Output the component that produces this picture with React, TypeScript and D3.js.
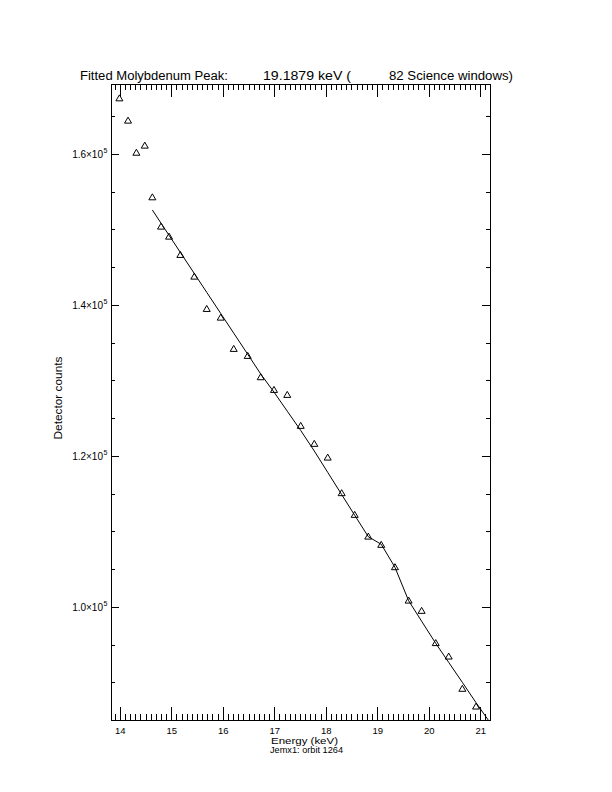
import React from "react";
import * as d3 from "d3";

const energy = [13.983, 14.151, 14.313, 14.476, 14.623, 14.792, 14.947, 15.167, 15.438, 15.679, 15.951, 16.203, 16.475, 16.727, 16.985, 17.243, 17.504, 17.768, 18.028, 18.299, 18.552, 18.816, 19.068, 19.334, 19.6, 19.852, 20.126, 20.378, 20.643, 20.909];
const counts = [167400, 164450, 160200, 161140, 154300, 150420, 149090, 146670, 143800, 139520, 138370, 134230, 133300, 130480, 128800, 128140, 124040, 121660, 119840, 115130, 112260, 109380, 108290, 105330, 100910, 99550, 95280, 93500, 89230, 86880];

const fitEnergy = [14.623, 14.792, 14.947, 15.167, 15.438, 15.679, 15.951, 16.203, 16.475, 16.727, 16.985, 17.243, 17.504, 17.768, 18.028, 18.299, 18.552, 18.816, 19.068, 19.334, 19.6, 19.852, 20.126, 20.378, 20.643, 20.909, 21.17];
const fitCounts = [152620, 150870, 149270, 147000, 144210, 141720, 138920, 136320, 133520, 130910, 128510, 125980, 123430, 120710, 117890, 114950, 112210, 109370, 108360, 105320, 100890, 98180, 95250, 92730, 90080, 87390, 84860];

const xMajorTicks = [14, 15, 16, 17, 18, 19, 20, 21];
const xTickLabels = ["14", "15", "16", "17", "18", "19", "20", "21"];
const yMajorTicks = [100000, 120000, 140000, 160000];
const yTickLabels = ["1.0", "1.2", "1.4", "1.6"];

const titleParts = ["Fitted Molybdenum Peak:", "19.1879 keV (", "82 Science windows)"];
const xTitle = "Energy (keV)";
const subTitle = "Jemx1: orbit 1264";
const yTitle = "Detector counts";

export default function App() {
  const L = 111, R = 490, T = 84, B = 720;
  const x = d3.scaleLinear().domain([13.82, 21.18]).range([L, R]);
  const y = d3.scaleLinear().domain([85100, 169300]).range([B, T]);

  const xMinor = d3.range(139, 212).map((v) => v / 10).filter((v) => Math.abs(v - Math.round(v)) > 1e-6);
  const yMinor = d3.range(90000, 170000, 5000).filter((v) => v % 20000 !== 0);

  const xMajLen = 12.7, xMinLen = 6.3, yMajLen = 7.6, yMinLen = 3.8;

  const line = d3.line<number>().x((_, i) => x(fitEnergy[i])).y((d) => y(d));
  const font = "'Liberation Sans', Arial, sans-serif";

  const tri = (cx: number, cy: number) =>
    `M${cx},${cy - 3.5}L${cx + 3.5},${cy + 2.5}L${cx - 3.5},${cy + 2.5}Z`;

  return (
    <svg width={612} height={792} style={{ position: "absolute", left: 0, top: 0, background: "#fff" }} fontFamily={font}>
      <rect x={0} y={0} width={612} height={792} fill="#fff" />
      <defs>
        <clipPath id="plotclip">
          <rect x={L} y={T} width={R - L} height={B - T} />
        </clipPath>
      </defs>
      <rect x={L} y={T} width={R - L} height={B - T} fill="none" stroke="#000" strokeWidth={1} shapeRendering="crispEdges" />
      <g stroke="#000" strokeWidth={1} shapeRendering="crispEdges">
        {xMajorTicks.map((t) => (
          <g key={"xm" + t}>
            <line x1={x(t)} x2={x(t)} y1={B} y2={B - xMajLen} />
            <line x1={x(t)} x2={x(t)} y1={T} y2={T + xMajLen} />
          </g>
        ))}
        {xMinor.map((t) => (
          <g key={"xn" + t}>
            <line x1={x(t)} x2={x(t)} y1={B} y2={B - xMinLen} />
            <line x1={x(t)} x2={x(t)} y1={T} y2={T + xMinLen} />
          </g>
        ))}
        {yMajorTicks.map((t) => (
          <g key={"ym" + t}>
            <line x1={L} x2={L + yMajLen} y1={y(t)} y2={y(t)} />
            <line x1={R} x2={R - yMajLen} y1={y(t)} y2={y(t)} />
          </g>
        ))}
        {yMinor.map((t) => (
          <g key={"yn" + t}>
            <line x1={L} x2={L + yMinLen} y1={y(t)} y2={y(t)} />
            <line x1={R} x2={R - yMinLen} y1={y(t)} y2={y(t)} />
          </g>
        ))}
      </g>
      {xMajorTicks.map((t, i) => (
        <text key={"xl" + t} x={x(t)} y={733.5} fontSize={9.5} textAnchor="middle">{xTickLabels[i]}</text>
      ))}
      {yMajorTicks.map((t, i) => (
        <text key={"yl" + t} x={103} y={y(t) + 3.5} fontSize={10} textAnchor="end">
          {yTickLabels[i] + "\u00d710"}
        </text>
      ))}
      {yMajorTicks.map((t) => (
        <text key={"ys" + t} x={103.5} y={y(t) - 1} fontSize={7}>5</text>
      ))}
      <g fill="none" stroke="#000" strokeWidth={1}>
        {energy.map((e, i) => (
          <path key={"p" + i} d={tri(x(e), y(counts[i]))} />
        ))}
      </g>
      <path d={line(fitCounts) || ""} fill="none" stroke="#000" strokeWidth={1} clipPath="url(#plotclip)" />
      <text x={80} y={80} fontSize={12} textLength={148} lengthAdjust="spacingAndGlyphs">{titleParts[0]}</text>
      <text x={263} y={80} fontSize={12} textLength={88} lengthAdjust="spacingAndGlyphs">{titleParts[1]}</text>
      <text x={389} y={80} fontSize={12} textLength={124} lengthAdjust="spacingAndGlyphs">{titleParts[2]}</text>
      <text x={271} y={743.5} fontSize={9} textLength={67} lengthAdjust="spacingAndGlyphs">{xTitle}</text>
      <text x={270} y={753} fontSize={8.5} textLength={73} lengthAdjust="spacingAndGlyphs">{subTitle}</text>
      <text transform="translate(62,398) rotate(-90)" fontSize={10} textAnchor="middle" textLength={83} lengthAdjust="spacingAndGlyphs">{yTitle}</text>
    </svg>
  );
}
